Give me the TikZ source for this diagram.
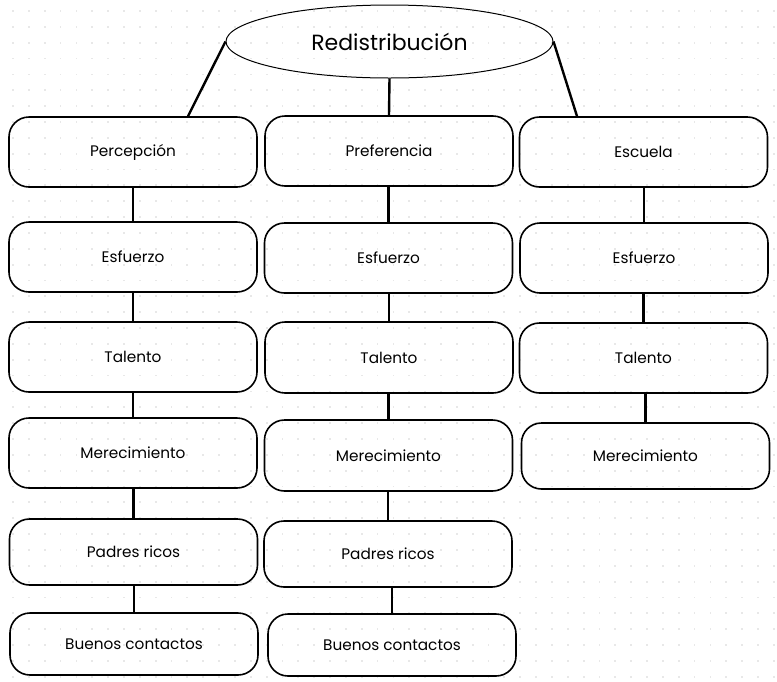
\documentclass[tikz,border=0pt]{standalone}
\usepackage{fontspec}
\setmainfont{Poppins}
\usetikzlibrary{shapes.geometric}
\tikzset{
  box/.style={draw=black, line width=1.6pt, rounded corners=20pt, minimum width=248pt, inner sep=0pt, font=\fontsize{15.3pt}{18pt}\selectfont, text=black},
  link/.style={draw=black, line width=2.4pt},
  dotgrid/.style={fill=black!9}
}
\begin{document}
\begin{tikzpicture}[x=1pt,y=-1pt]
\useasboundingbox (0,0) rectangle (777,681);
\fill[white] (0,0) rectangle (777,681);
\foreach \i in {0,...,48} {
  \foreach \j in {0,...,42} {
    \fill[dotgrid] (13+15.85*\i-0.9,11+15.85*\j-0.9) rectangle ++(1.8,1.8);
  }
}
\node[draw=black, line width=1pt, ellipse, minimum width=327pt, minimum height=73pt, inner sep=0pt, font=\fontsize{22pt}{26pt}\selectfont] (top) at (389.5,41.5) {Redistribución};
% column 1
\node[box, minimum height=70pt] (a1) at (133,152) {Percepción};
\node[box, minimum height=70pt] (a2) at (133,257) {Esfuerzo};
\node[box, minimum height=70pt] (a3) at (133,357) {Talento};
\node[box, minimum height=70pt] (a4) at (133,453) {Merecimiento};
\node[box, minimum height=66pt] (a5) at (133.5,552) {Padres ricos};
\node[box, minimum height=62pt] (a6) at (134,644) {Buenos contactos};
% column 2
\node[box, minimum height=70pt] (b1) at (389,151) {Preferencia};
\node[box, minimum height=70pt] (b2) at (388.5,258) {Esfuerzo};
\node[box, minimum height=71pt] (b3) at (389,357.5) {Talento};
\node[box, minimum height=71pt] (b4) at (388.5,455.5) {Merecimiento};
\node[box, minimum height=66pt] (b5) at (388,554) {Padres ricos};
\node[box, minimum height=62pt] (b6) at (392,645) {Buenos contactos};
% column 3
\node[box, minimum height=70pt] (c1) at (643.5,152) {Escuela};
\node[box, minimum height=70pt] (c2) at (644,258) {Esfuerzo};
\node[box, minimum height=70pt] (c3) at (643.5,358) {Talento};
\node[box, minimum height=66pt] (c4) at (645.5,456) {Merecimiento};
% top links
\coordinate (pa) at ([xshift=55pt]a1.north);
\coordinate (pc) at ([xshift=-66.5pt]c1.north);
\draw[link] (top.west) -- (pa);
\draw[link] (top.south) -- (b1.north);
\draw[link] (top.east) -- (pc);
% vertical links
\foreach \u/\l in {a1/a2,a2/a3,a3/a4,a4/a5,a5/a6,b1/b2,b2/b3,b3/b4,b4/b5,b5/b6,c1/c2,c2/c3,c3/c4} {
  \draw[link] (\l.north |- \u.south) -- (\l.north);
}
\end{tikzpicture}
\end{document}
